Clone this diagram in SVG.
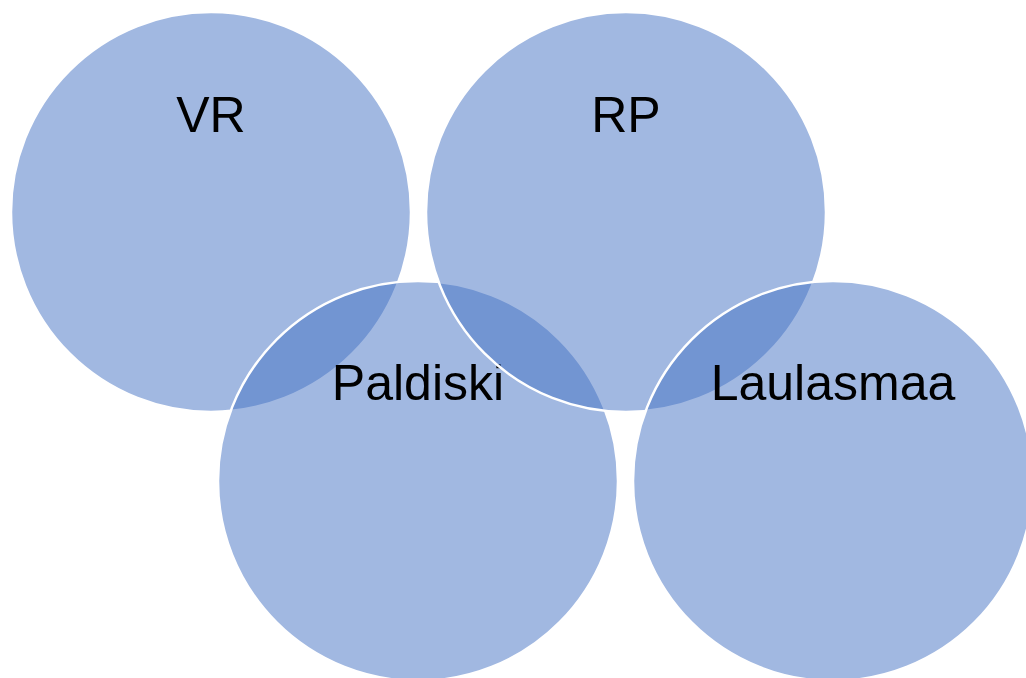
<svg xmlns="http://www.w3.org/2000/svg" width="1026" height="678" viewBox="0 0 1026 678">
<style>
.c{fill:#4472C4;fill-opacity:0.5;stroke:#FFFFFF;stroke-width:2.5}
.t{font-family:"Liberation Sans",Arial,sans-serif;font-size:50px;fill:#000000;text-anchor:middle}
</style>
<rect width="1026" height="678" fill="#FFFFFF"/>
<g id="node-vr"><circle class="c" cx="211" cy="212" r="200"/><text class="t" x="211" y="132">VR</text></g>
<g id="node-paldiski"><circle class="c" cx="418" cy="481" r="200"/><text class="t" x="418" y="400">Paldiski</text></g>
<g id="node-rp"><circle class="c" cx="626" cy="212" r="200"/><text class="t" x="626" y="132">RP</text></g>
<g id="node-laulasmaa"><circle class="c" cx="833" cy="481" r="200"/><text class="t" x="833" y="400">Laulasmaa</text></g>
<g id="connectors"></g>
</svg>
